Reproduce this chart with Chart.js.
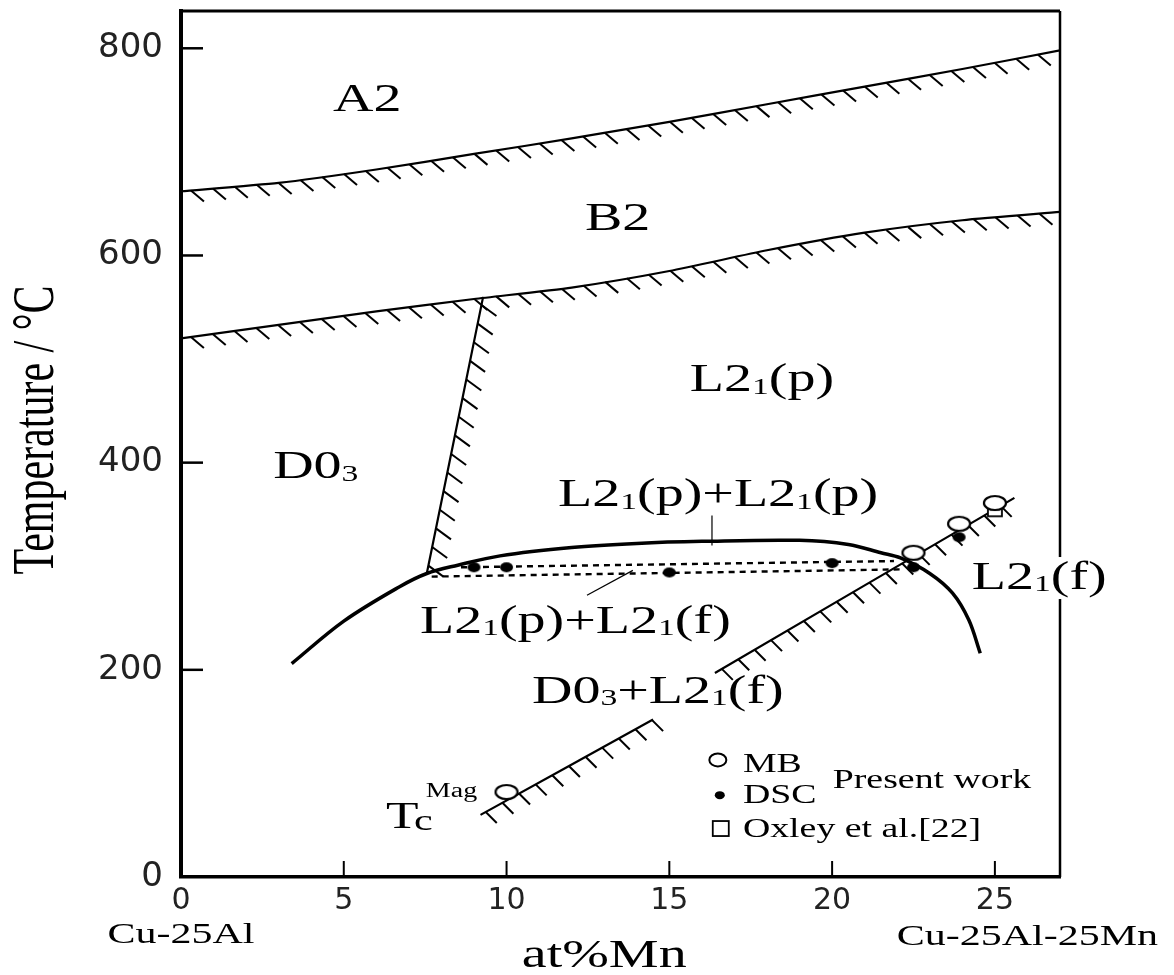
<!DOCTYPE html>
<html>
<head>
<meta charset="utf-8">
<script src="https://cdn.jsdelivr.net/npm/chart.js@4.4.1/dist/chart.umd.min.js"></script>
<style>
  html, body { margin: 0; padding: 0; background: #fff; }
  #wrap { width: 1174px; height: 975px; }
</style>
</head>
<body>
<div id="wrap"><canvas id="phaseChart" width="1174" height="975"></canvas></div>
<script>
// axis ticks
const xTicks = [0, 5, 10, 15, 20, 25];
const yTicks = [0, 200, 400, 600, 800];

// phase boundaries (at%Mn, temperature in C)
const a2b2Mn = [0, 3, 6, 9, 12, 15, 18, 21, 24, 27];
const a2b2T = [662, 670, 683, 698, 713, 729, 746, 763, 780, 798];
const b2l21Mn = [0, 3, 6, 9, 12, 15, 18, 21, 24, 27];
const b2l21T = [520, 533, 546, 558, 569, 585, 605, 622, 634, 642];
const d03Mn = [7.55, 9.28];
const d03T = [293, 560];
const gapMn = [3.4, 5, 6.7, 7.55, 8.5, 9.8, 12, 14, 16, 19, 20.5, 21.5, 22.1, 23.0, 23.7, 24.2, 24.55];
const gapT = [206, 247, 280, 293, 301, 310, 318, 322, 324, 325, 321, 313, 308, 293, 274, 248, 216];
const tieUpperMn = [8.6, 21.9];
const tieUpperT = [299, 305];
const tieLowerMn = [7.7, 22.2];
const tieLowerT = [290, 297];
const tcLowMn = [9.2, 14.5];
const tcLowT = [60, 152];
const tcHighMn = [16.4, 25.6];
const tcHighT = [197, 366];

// measured points
const mbMn = [10, 22.5, 23.9, 25];
const mbT = [82, 313, 341, 361];
const dscMn = [9, 10, 15, 20, 22.5, 23.9];
const dscT = [299, 299, 294, 303, 299, 328];
const oxleyMn = [25];
const oxleyT = [354];

// leader lines from labels
const leadAMn = [16.31, 16.31];
const leadAT = [349, 320];
const leadBMn = [12.47, 13.88];
const leadBT = [272, 296];

const SX = 1.4; // the source figure is stretched sideways
const SERIF = '"Liberation Serif", "Times New Roman", serif';

function pts(xs, ys) {
    return xs.map((x, i) => ({ x: x, y: ys[i] }));
}

function markImg(w, h, draw) {
    const c = document.createElement("canvas");
    c.width = w;
    c.height = h;
    draw(c.getContext("2d"), w, h);
    return c;
}

const openOval = markImg(26, 18, (g, w, h) => {
    g.beginPath();
    g.ellipse(w / 2, h / 2, 11, 7, 0, 0, Math.PI * 2);
    g.fillStyle = "#fff";
    g.fill();
    g.lineWidth = 2.2;
    g.strokeStyle = "#000";
    g.stroke();
});
const dot = markImg(15, 12, (g, w, h) => {
    g.beginPath();
    g.ellipse(w / 2, h / 2, 6.5, 5, 0, 0, Math.PI * 2);
    g.fillStyle = "#000";
    g.fill();
});
const openSquare = markImg(18, 16, (g, w, h) => {
    g.lineWidth = 1.8;
    g.strokeStyle = "#000";
    g.fillStyle = "#fff";
    g.fillRect(2, 2, w - 4, h - 4);
    g.strokeRect(2, 2, w - 4, h - 4);
});

function boundary(xs, ys, hatch) {
    return {
        data: pts(xs, ys),
        showLine: true,
        borderColor: "#000",
        borderWidth: 2.2,
        pointRadius: 0,
        tension: 0.2,
        hatch: hatch,
    };
}

const wideHatch = { step: 22, start: 10, dx: 13, dy: 11 };

const datasets = [
    { data: pts(mbMn, mbT), pointStyle: openOval, pointRadius: 10 },
    { data: pts(dscMn, dscT), pointStyle: dot, pointRadius: 6 },
    { data: pts(oxleyMn, oxleyT), pointStyle: openSquare, pointRadius: 8 },
    {
        data: pts(gapMn, gapT), showLine: true, borderColor: "#000",
        borderWidth: 3.5, pointRadius: 0, tension: 0.35,
    },
    {
        data: pts(tieUpperMn, tieUpperT), showLine: true, borderColor: "#000",
        borderWidth: 2.4, borderDash: [6, 5], pointRadius: 0,
    },
    {
        data: pts(tieLowerMn, tieLowerT), showLine: true, borderColor: "#000",
        borderWidth: 2.4, borderDash: [6, 5], pointRadius: 0,
    },
    boundary(a2b2Mn, a2b2T, wideHatch),
    boundary(b2l21Mn, b2l21T, wideHatch),
    boundary(d03Mn, d03T, { step: 19, start: 8, dx: 15, dy: 11 }),
    boundary(tcLowMn, tcLowT, { step: 19, start: 6, dx: 11, dy: 11 }),
    boundary(tcHighMn, tcHighT, { step: 19, start: 8, dx: 11, dy: 11 }),
    {
        data: pts(leadAMn, leadAT), showLine: true, borderColor: "#000",
        borderWidth: 1.2, pointRadius: 0,
    },
    {
        data: pts(leadBMn, leadBT), showLine: true, borderColor: "#000",
        borderWidth: 1.2, pointRadius: 0,
    },
];

// region labels: text with _x for subscripts, anchored at (Mn, T) = left baseline
const regionLabels = [
    { text: "A2", mn: 4.67, t: 739 },
    { text: "B2", mn: 12.41, t: 625 },
    { text: "L2_1(p)", mn: 15.63, t: 469 },
    { text: "D0_3", mn: 2.83, t: 385 },
    { text: "L2_1(p)+L2_1(p)", mn: 11.58, t: 358 },
    { text: "L2_1(p)+L2_1(f)", mn: 7.34, t: 236 },
    { text: "L2_1(f)", mn: 24.29, t: 278, clear: true },
    { text: "D0_3+L2_1(f)", mn: 10.78, t: 168 },
];

function tokens(text) {
    const out = [];
    text.replace(/_(\w)|([^_]+)/g, (m, sub, plain) => {
        out.push(sub ? { t: sub, sub: true } : { t: plain, sub: false });
    });
    return out;
}

function richWidth(ctx, text, size) {
    let w = 0;
    tokens(text).forEach((tk) => {
        ctx.font = (tk.sub ? size * 0.6 : size) + "px " + SERIF;
        w += ctx.measureText(tk.t).width;
    });
    return w * SX;
}

function drawRich(ctx, text, x, y, size, align) {
    const w = richWidth(ctx, text, size);
    const left = align === "center" ? x - w / 2 : x;
    ctx.save();
    ctx.translate(left, y);
    ctx.scale(SX, 1);
    ctx.textBaseline = "alphabetic";
    ctx.textAlign = "left";
    let cx = 0;
    tokens(text).forEach((tk) => {
        const fs = tk.sub ? size * 0.6 : size;
        ctx.font = fs + "px " + SERIF;
        ctx.fillText(tk.t, cx, tk.sub ? size * 0.06 : 0);
        cx += ctx.measureText(tk.t).width;
    });
    ctx.restore();
    return w;
}

const hatchPlugin = {
    id: "hatch",
    beforeDatasetsDraw(chart) {
        const ctx = chart.ctx;
        chart.data.datasets.forEach((ds, i) => {
            if (!ds.hatch) return;
            const h = ds.hatch;
            const p = chart.getDatasetMeta(i).data.map((e) => [e.x, e.y]);
            ctx.save();
            ctx.strokeStyle = "#000";
            ctx.lineWidth = 2;
            let carry = h.start;
            for (let k = 0; k < p.length - 1; k++) {
                const [x0, y0] = p[k];
                const [x1, y1] = p[k + 1];
                const len = Math.hypot(x1 - x0, y1 - y0);
                let s = carry;
                while (s <= len) {
                    const px = x0 + ((x1 - x0) * s) / len;
                    const py = y0 + ((y1 - y0) * s) / len;
                    if (px + h.dx < chart.chartArea.right) {
                        ctx.beginPath();
                        ctx.moveTo(px, py);
                        ctx.lineTo(px + h.dx, py + h.dy);
                        ctx.stroke();
                    }
                    s += h.step;
                }
                carry = s - len;
            }
            ctx.restore();
        });
    },
};

const decorPlugin = {
    id: "decor",
    afterDraw(chart) {
        const ctx = chart.ctx;
        const a = chart.chartArea;
        const xs = chart.scales.x;
        const ys = chart.scales.y;
        const X = (v) => xs.getPixelForValue(v);
        const Y = (v) => ys.getPixelForValue(v);

        ctx.save();
        ctx.strokeStyle = "#000";
        // top and right frame
        ctx.lineWidth = 3;
        ctx.beginPath();
        ctx.moveTo(a.left, a.top);
        ctx.lineTo(a.right, a.top);
        ctx.stroke();
        ctx.lineWidth = 2.5;
        ctx.beginPath();
        ctx.moveTo(a.right, a.top);
        ctx.lineTo(a.right, a.bottom);
        ctx.stroke();

        // inward tick marks
        ctx.lineWidth = 2.5;
        yTicks.filter((v) => v > 0).forEach((v) => {
            ctx.beginPath();
            ctx.moveTo(a.left, Y(v));
            ctx.lineTo(a.left + 22, Y(v));
            ctx.stroke();
        });
        ctx.lineWidth = 2;
        xTicks.filter((v) => v > 0).forEach((v) => {
            ctx.beginPath();
            ctx.moveTo(X(v), a.bottom);
            ctx.lineTo(X(v), a.bottom - 16);
            ctx.stroke();
        });

        ctx.fillStyle = "#000";
        // phase labels
        regionLabels.forEach((lb) => {
            const x = X(lb.mn);
            const y = Y(lb.t);
            if (lb.clear) {
                const w = richWidth(ctx, lb.text, 40);
                ctx.fillStyle = "#fff";
                ctx.fillRect(x - 2, y - 32, w + 4, 42);
                ctx.fillStyle = "#000";
            }
            drawRich(ctx, lb.text, x, y, 40, "left");
        });

        // Tc^Mag
        drawRich(ctx, "T", X(6.3), Y(47), 38, "left");
        drawRich(ctx, "c", X(7.16), Y(45), 30, "left");
        drawRich(ctx, "Mag", X(7.52), Y(77), 20, "left");

        // legend
        ctx.lineWidth = 2;
        ctx.beginPath();
        ctx.ellipse(X(16.49), Y(113), 8.5, 6.5, 0, 0, Math.PI * 2);
        ctx.stroke();
        ctx.beginPath();
        ctx.ellipse(X(16.55), Y(79), 5, 4, 0, 0, Math.PI * 2);
        ctx.fill();
        ctx.lineWidth = 1.8;
        ctx.strokeRect(X(16.58) - 8, Y(46.3) - 8, 16, 15);
        drawRich(ctx, "MB", X(17.26), Y(101), 27, "left");
        drawRich(ctx, "DSC", X(17.26), Y(71), 27, "left");
        drawRich(ctx, "Oxley et al.[22]", X(17.26), Y(38.6), 27, "left");
        drawRich(ctx, "Present work", X(20.02), Y(85.8), 27, "left");

        // end member names and axis titles
        drawRich(ctx, "Cu-25Al", X(0), a.bottom + 66, 30, "center");
        drawRich(ctx, "Cu-25Al-25Mn", X(26.0), a.bottom + 68, 30, "center");
        drawRich(ctx, "at%Mn", X(13.0), a.bottom + 90, 40, "center");

        ctx.save();
        ctx.translate(53, (a.top + a.bottom) / 2 - 14);
        ctx.rotate(-Math.PI / 2);
        ctx.scale(1, SX);
        ctx.font = "42px " + SERIF;
        ctx.textAlign = "center";
        ctx.textBaseline = "alphabetic";
        ctx.fillText("Temperature / \u00b0C", 0, 0);
        ctx.restore();

        ctx.restore();
    },
};

function pinScale(size, key) {
    return function (scale) {
        scale[key] = size;
        scale.paddingTop = 0;
        scale.paddingBottom = 0;
        scale.paddingLeft = 0;
        scale.paddingRight = 0;
    };
}

new Chart(document.getElementById("phaseChart"), {
    type: "scatter",
    data: { datasets: datasets },
    plugins: [hatchPlugin, decorPlugin],
    options: {
        responsive: false,
        animation: false,
        layout: { padding: { left: 0, top: 10, right: 114, bottom: 0 } },
        plugins: { legend: { display: false }, tooltip: { enabled: false } },
        scales: {
            x: {
                type: "linear",
                min: 0,
                max: 27,
                afterBuildTicks: (s) => { s.ticks = xTicks.map((v) => ({ value: v })); },
                afterFit: pinScale(98, "height"),
                grid: { display: false, drawTicks: false },
                border: { display: true, color: "#000", width: 3.5 },
                ticks: {
                    padding: 6,
                    color: "#222",
                    font: { family: "DejaVu Sans", size: 30 },
                },
            },
            y: {
                type: "linear",
                min: 0,
                max: 836,
                afterBuildTicks: (s) => { s.ticks = yTicks.map((v) => ({ value: v })); },
                afterFit: pinScale(181, "width"),
                grid: { display: false, drawTicks: false },
                border: { display: true, color: "#000", width: 4 },
                ticks: {
                    padding: 18,
                    color: "#222",
                    font: { family: "DejaVu Sans", size: 34 },
                },
            },
        },
    },
});
</script>
</body>
</html>
